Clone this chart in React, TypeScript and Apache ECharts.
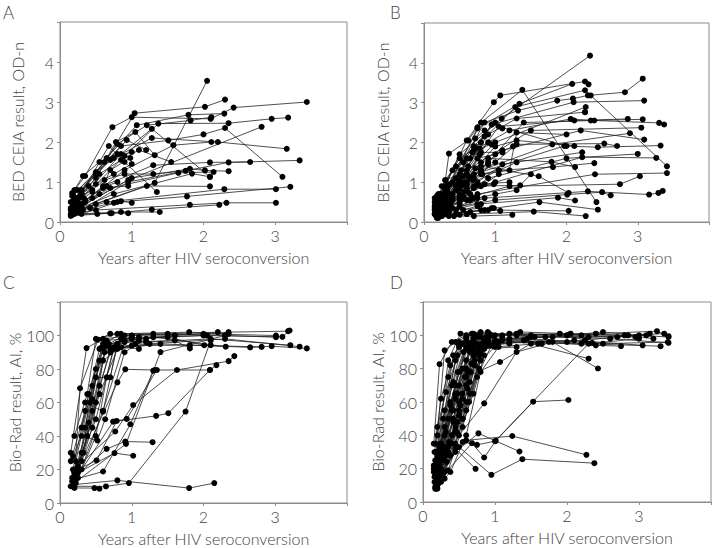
import React, { useEffect, useRef } from "react";
import * as echarts from "echarts";

type Pt = [number, number];

// Panel A: BED CEIA, subjects (years, OD-n)
const panelA: Pt[][] = [
  [[0.17, 0.72], [0.35, 1.15], [0.73, 2.37], [1.0, 2.62], [2.1, 2.58], [2.42, 2.86], [3.44, 3.0]],
  [[0.2, 0.45], [0.5, 1.1], [1.04, 2.72], [2.02, 2.88], [2.3, 3.06]],
  [[0.22, 0.6], [0.65, 1.6], [1.07, 2.42], [1.79, 2.68], [2.29, 2.71]],
  [[0.25, 0.3], [1.32, 0.98], [2.05, 3.53]],
  [[0.2, 0.5], [0.8, 1.95], [1.21, 2.42], [1.82, 2.54], [2.11, 2.62]],
  [[0.25, 0.5], [0.85, 1.7], [1.28, 2.33], [2.09, 1.13]],
  [[0.2, 0.4], [0.9, 1.65], [1.37, 2.46], [2.35, 2.47], [2.95, 2.58], [3.18, 2.61]],
  [[0.25, 0.35], [0.95, 1.05], [2.81, 2.38]],
  [[0.2, 0.6], [0.7, 1.55], [1.28, 2.1], [2.2, 2.0], [3.16, 1.83]],
  [[0.25, 0.8], [0.85, 1.9], [1.51, 2.04], [2.0, 2.19], [2.3, 2.35], [3.1, 1.13]],
  [[0.3, 0.45], [0.9, 1.3], [1.58, 1.92], [2.11, 2.0]],
  [[0.2, 0.3], [0.6, 0.9], [1.3, 1.42], [2.09, 1.49], [2.65, 1.5]],
  [[0.25, 0.25], [0.95, 1.0], [2.35, 1.49], [3.34, 1.54]],
  [[0.2, 0.35], [0.7, 0.85], [1.65, 1.23], [2.14, 1.25]],
  [[0.3, 0.4], [1.0, 1.1], [1.81, 1.33], [2.02, 1.29], [2.35, 1.27]],
  [[0.22, 0.3], [0.75, 0.7], [1.84, 1.21], [2.09, 1.13]],
  [[0.2, 0.25], [0.5, 0.45], [1.21, 0.9], [2.09, 0.89]],
  [[0.25, 0.3], [0.65, 0.5], [2.29, 0.82], [3.01, 0.82]],
  [[0.3, 0.2], [0.8, 0.5], [1.77, 0.64], [3.21, 0.88]],
  [[0.15, 0.2], [0.5, 0.3], [1.81, 0.43], [2.32, 0.48], [3.01, 0.48]],
  [[0.17, 0.18], [0.7, 0.22], [1.28, 0.31], [2.22, 0.43]],
  [[0.2, 0.2], [0.85, 0.25], [1.39, 0.25]],
  [[0.15, 0.15], [0.52, 0.2], [0.72, 0.22], [0.95, 0.22]],
  [[0.3, 0.3], [0.75, 0.48], [0.85, 0.52], [1.0, 0.48]],
  [[0.18, 0.7], [0.5, 1.2], [0.93, 2.05], [1.2, 1.8]],
  [[0.2, 0.6], [0.62, 1.5], [0.78, 2.0], [1.05, 2.25], [1.32, 1.67]],
  [[0.22, 0.55], [0.55, 1.2], [0.85, 1.55], [1.1, 1.8], [1.55, 1.5]],
  [[0.2, 0.4], [0.68, 1.9], [0.9, 1.5], [1.35, 0.75]],
  [[0.3, 0.8], [0.5, 1.25], [0.75, 1.6], [1.0, 1.75]],
  [[0.15, 0.5], [0.3, 0.7], [0.5, 0.95], [0.75, 1.2], [1.0, 1.45]],
  [[0.18, 0.4], [0.35, 0.55], [0.6, 0.85], [0.95, 0.9]],
  [[0.25, 0.6], [0.45, 0.8], [0.62, 1.05], [0.9, 1.2], [1.3, 1.2], [1.75, 1.28]],
  [[0.15, 0.3], [0.28, 0.4], [0.45, 0.6], [0.65, 0.9], [0.8, 1.0]],
  [[0.2, 0.8], [0.32, 1.15], [0.55, 1.5], [0.8, 1.7]],
  [[0.17, 0.25], [0.3, 0.35], [0.55, 0.7], [0.7, 1.3], [0.98, 1.6]],
  [[0.15, 0.35], [0.2, 0.55], [0.28, 0.62], [0.35, 0.5]],
  [[0.17, 0.65], [0.22, 0.8], [0.3, 0.72], [0.4, 0.9]],
  [[0.16, 0.2], [0.24, 0.25], [0.32, 0.3], [0.42, 0.35]],
  [[0.18, 0.5], [0.25, 0.4], [0.33, 0.6], [0.45, 0.75]],
];

// Panel B: BED CEIA, second cohort
const panelB: Pt[][] = [
  [[0.2, 0.6], [0.5, 1.7], [1.09, 2.6], [2.33, 4.18]],
  [[0.18, 0.5], [0.6, 2.05], [0.98, 3.01], [1.07, 3.18], [2.26, 3.53], [2.31, 3.46]],
  [[0.2, 0.4], [0.8, 2.5], [1.38, 3.32], [2.42, 0.5]],
  [[0.22, 0.5], [0.75, 2.35], [1.34, 2.97], [2.08, 3.47]],
  [[0.2, 0.3], [0.9, 2.2], [1.28, 2.89], [2.26, 3.31], [2.34, 3.18], [3.41, 1.4]],
  [[0.25, 0.6], [0.85, 2.5], [1.32, 2.8], [1.87, 3.05], [2.09, 3.1], [2.3, 3.18], [2.82, 3.26], [3.07, 3.6]],
  [[0.2, 0.5], [0.95, 2.45], [2.1, 3.01], [3.09, 3.05]],
  [[0.3, 0.7], [1.0, 2.0], [2.27, 2.89], [2.26, 2.76]],
  [[0.2, 0.4], [0.7, 1.8], [1.2, 2.3], [2.06, 2.59], [2.34, 2.55], [3.07, 2.58]],
  [[0.25, 0.45], [1.05, 2.4], [2.11, 2.55], [2.86, 2.59]],
  [[0.18, 0.3], [0.9, 1.5], [1.4, 2.5], [2.39, 2.55], [3.3, 2.49], [3.37, 2.45]],
  [[0.2, 0.5], [0.6, 1.3], [1.5, 2.3], [3.05, 2.37]],
  [[0.22, 0.4], [0.8, 1.3], [1.8, 1.95], [2.89, 2.23]],
  [[0.3, 0.6], [1.1, 1.8], [2.2, 2.3], [3.09, 2.07]],
  [[0.15, 0.35], [0.7, 1.2], [1.97, 1.91], [2.44, 1.88], [3.32, 1.92]],
  [[0.2, 0.25], [0.9, 1.1], [2.0, 1.6], [3.0, 1.71]],
  [[0.25, 0.5], [1.0, 1.0], [2.22, 1.63], [3.26, 1.61]],
  [[0.2, 0.3], [0.75, 0.7], [2.4, 1.2], [3.41, 1.23]],
  [[0.18, 0.4], [1.2, 0.9], [2.75, 0.95], [3.03, 1.15]],
  [[0.22, 0.2], [0.85, 0.6], [2.3, 0.77], [3.16, 0.69], [3.29, 0.73], [3.35, 0.78]],
  [[0.2, 0.3], [1.0, 0.55], [2.01, 0.69], [2.5, 0.75], [2.62, 0.67]],
  [[0.15, 0.2], [0.75, 0.45], [1.88, 0.61], [2.12, 0.54]],
  [[0.17, 0.15], [0.8, 0.3], [1.62, 0.5], [2.44, 0.31]],
  [[0.2, 0.2], [0.9, 0.3], [2.03, 0.28]],
  [[0.18, 0.1], [0.6, 0.2], [1.54, 0.26], [2.27, 0.15]],
  [[0.2, 0.15], [0.7, 0.15], [1.24, 0.18]],
  [[0.25, 0.3], [0.95, 0.35], [1.07, 0.28]],
  [[0.2, 0.5], [0.8, 1.4], [1.61, 1.15], [2.03, 0.73]],
  [[0.3, 0.8], [0.9, 1.6], [1.79, 1.51], [2.12, 1.38]],
  [[0.22, 0.6], [1.05, 1.3], [1.81, 1.38], [2.39, 1.48]],
  [[0.2, 0.4], [0.7, 0.9], [1.35, 0.92], [1.5, 1.2]],
  [[0.3, 1.05], [0.35, 1.72], [0.62, 2.05], [0.75, 2.38]],
  [[0.2, 0.7], [0.45, 1.4], [0.7, 1.9], [1.0, 2.5], [1.1, 2.35]],
  [[0.25, 0.9], [0.5, 1.6], [0.72, 1.85], [0.95, 2.45], [2.0, 1.91]],
  [[0.2, 0.5], [0.55, 1.0], [0.8, 1.5], [1.0, 1.9], [1.3, 2.05], [2.11, 1.91]],
  [[0.15, 0.3], [0.45, 0.8], [0.7, 1.1], [1.0, 1.5], [1.3, 1.95], [2.53, 1.97], [2.71, 1.91]],
  [[0.2, 0.2], [0.5, 0.7], [0.75, 1.0], [1.1, 1.45], [2.22, 1.75]],
  [[0.18, 0.6], [0.4, 1.0], [0.6, 1.2], [0.78, 1.7], [0.9, 2.0]],
  [[0.2, 0.4], [0.35, 0.7], [0.6, 0.95], [0.8, 1.2], [1.05, 1.3], [1.3, 1.5]],
  [[0.16, 0.3], [0.3, 0.5], [0.55, 0.6], [0.7, 0.85], [0.98, 0.95]],
  [[0.2, 0.5], [0.4, 0.6], [0.55, 0.95], [0.62, 1.4], [0.78, 1.85], [0.95, 1.95]],
  [[0.17, 0.4], [0.28, 0.55], [0.5, 0.85], [0.68, 1.05], [0.8, 0.9]],
  [[0.22, 0.7], [0.3, 1.05], [0.5, 1.2], [0.65, 1.6], [0.72, 2.1], [0.85, 2.3]],
  [[0.2, 0.2], [0.33, 0.35], [0.5, 0.5], [0.65, 0.55], [0.8, 0.45]],
  [[0.15, 0.5], [0.25, 0.6], [0.45, 1.1], [0.6, 1.0], [0.72, 1.35], [0.9, 1.45]],
  [[0.18, 0.25], [0.28, 0.25], [0.4, 0.35], [0.55, 0.3], [0.75, 0.4]],
  [[0.2, 0.6], [0.32, 0.8], [0.5, 1.05], [0.6, 1.6], [0.8, 1.75], [1.1, 1.75]],
  [[0.25, 0.15], [0.45, 0.2], [0.65, 0.25], [0.85, 0.3], [0.98, 0.35]],
  [[0.17, 0.35], [0.35, 0.45], [0.55, 0.75], [0.75, 0.95], [1.2, 1.0]],
  [[0.2, 0.45], [0.3, 0.55], [0.45, 0.9], [0.62, 1.15], [0.75, 1.6], [1.0, 1.7], [1.25, 1.9]],
  [[0.15, 0.2], [0.2, 0.4], [0.4, 0.55], [0.55, 0.65], [0.7, 0.6]],
  [[0.18, 0.6], [0.3, 0.65], [0.6, 0.85], [0.82, 1.2], [1.2, 1.3], [1.3, 2.25], [2.0, 2.2]],
  [[0.2, 0.3], [0.35, 0.3], [0.5, 0.4], [0.75, 0.6], [1.0, 0.7], [1.3, 0.8]],
  [[0.16, 0.5], [0.24, 0.45], [0.4, 0.7], [0.58, 0.9], [0.72, 0.9]],
  [[0.22, 0.25], [0.3, 0.2], [0.42, 0.15], [0.6, 0.2]],
  [[0.2, 0.55], [0.36, 0.95], [0.52, 1.3], [0.68, 1.75], [0.85, 2.15], [1.3, 2.6], [2.26, 2.76]],
  [[0.18, 0.4], [0.25, 0.5], [0.38, 0.6], [0.62, 0.75], [0.85, 0.95], [1.05, 1.2]],
  [[0.2, 0.15], [0.26, 0.3], [0.33, 0.45], [0.5, 0.6], [0.65, 0.7]],
  [[0.3, 0.9], [0.4, 1.3], [0.55, 1.5], [0.7, 1.9], [0.8, 2.0]],
  [[0.17, 0.3], [0.22, 0.6], [0.32, 0.75], [0.5, 0.95], [0.65, 1.1], [0.8, 1.3]],
  [[0.15, 0.6], [0.2, 0.45], [0.25, 0.7], [0.3, 0.55], [0.4, 0.65]],
  [[0.17, 0.2], [0.2, 0.35], [0.28, 0.4], [0.35, 0.25], [0.45, 0.3]],
  [[0.16, 0.45], [0.22, 0.3], [0.3, 0.35], [0.38, 0.5], [0.5, 0.45]],
  [[0.18, 0.65], [0.24, 0.55], [0.33, 0.9], [0.45, 0.95], [0.55, 1.15]],
  [[0.2, 0.1], [0.25, 0.2], [0.35, 0.15], [0.5, 0.18]],
  [[0.15, 0.4], [0.19, 0.25], [0.27, 0.5], [0.37, 0.4], [0.6, 0.55]],
];

// Panel C: Bio-Rad avidity index (%), first cohort
const panelC: Pt[][] = [
  [[0.15, 30], [0.37, 92.5], [0.6, 98], [1.0, 100], [2.0, 101], [3.01, 100]],
  [[0.2, 15], [0.28, 68.5], [0.53, 97.5], [0.7, 101], [1.3, 101], [2.3, 100], [3.01, 99]],
  [[0.18, 20], [0.4, 65], [0.6, 95], [0.85, 101], [1.6, 100], [2.35, 102], [3.18, 102.6]],
  [[0.22, 12], [0.45, 55], [0.65, 94], [1.0, 98], [2.0, 100], [3.1, 99.2], [3.2, 103]],
  [[0.2, 10], [0.5, 60], [0.7, 92], [1.2, 96], [2.1, 98], [3.21, 94.2]],
  [[0.17, 15], [0.5, 50], [0.75, 93], [1.25, 95], [2.3, 98], [3.34, 93.3]],
  [[0.25, 20], [0.55, 65], [0.8, 92], [1.4, 95], [2.65, 92.9], [2.95, 93.6], [3.44, 92.3]],
  [[0.2, 18], [0.4, 48], [0.62, 90], [1.0, 94], [1.81, 94.2], [2.81, 93.2]],
  [[0.22, 25], [0.45, 70], [0.68, 95], [1.3, 99], [2.31, 93.3]],
  [[0.3, 30], [0.55, 85], [0.85, 98], [1.5, 99], [2.01, 94.2], [2.1, 94.2]],
  [[0.25, 15], [0.6, 55], [0.9, 96], [1.6, 97], [1.81, 92.3]],
  [[0.2, 12], [0.92, 35.3], [1.4, 90.1], [2.3, 100]],
  [[0.18, 14], [0.8, 72], [0.91, 79.8], [1.32, 79.4], [2.09, 79.4], [2.18, 82.3]],
  [[0.2, 20], [0.77, 42.7], [1.02, 58.5], [1.63, 79.4], [2.35, 84.7], [2.43, 87.7]],
  [[0.15, 10], [0.74, 48.6], [1.34, 52], [1.51, 53.6], [2.09, 79.4]],
  [[0.18, 10], [0.64, 9.9], [0.96, 11.9], [1.75, 54.6], [2.1, 97]],
  [[0.2, 9], [0.48, 8.9], [0.55, 8.5]],
  [[0.2, 11], [0.8, 13.5], [1.8, 8.9], [2.15, 11.9]],
  [[0.22, 16], [0.65, 32.3], [0.91, 36.7], [1.29, 36.3]],
  [[0.25, 18], [0.76, 29.8], [1.02, 28.2]],
  [[0.2, 14], [0.6, 18.8], [0.98, 47], [1.3, 79]],
  [[0.25, 20], [0.51, 25.4], [0.79, 49], [0.93, 50.2], [1.35, 79.4]],
  [[0.3, 40], [0.52, 37.3], [0.63, 50], [0.9, 90], [1.2, 98]],
  [[0.35, 60], [0.6, 54.6], [0.8, 95], [1.0, 100]],
  [[0.3, 45], [0.5, 75], [0.7, 75], [0.8, 95], [1.1, 97]],
  [[0.15, 25], [0.35, 55], [0.55, 92], [0.9, 100], [1.5, 101], [2.2, 102]],
  [[0.2, 40], [0.38, 65], [0.5, 98], [0.8, 101], [1.8, 102], [2.35, 101]],
  [[0.18, 28], [0.35, 45], [0.5, 80], [0.65, 97], [1.1, 99], [2.05, 100]],
  [[0.25, 22], [0.42, 60], [0.6, 92], [0.9, 97], [1.6, 100]],
  [[0.2, 16], [0.38, 40], [0.55, 70], [0.7, 90], [1.05, 95]],
  [[0.3, 25], [0.45, 45], [0.6, 85], [0.85, 93], [1.1, 92]],
  [[0.17, 13], [0.3, 20], [0.5, 40], [0.65, 75], [0.75, 92]],
  [[0.2, 18], [0.33, 30], [0.45, 62], [0.58, 93], [1.0, 99]],
];

// Panel D: Bio-Rad avidity index (%), second cohort
const panelD: Pt[][] = [
  [[0.18, 10], [0.45, 32], [0.73, 19.9]],
  [[0.2, 14], [0.5, 33], [0.95, 16.3], [1.38, 25.7], [2.38, 23.3]],
  [[0.2, 12], [0.45, 30], [0.77, 41.2], [1.34, 30.3]],
  [[0.25, 20], [0.6, 37], [1.24, 39.6], [2.27, 28.3]],
  [[0.2, 12], [0.68, 35.3], [0.85, 26.7], [1.01, 36.7], [1.53, 60.2], [2.02, 61.2]],
  [[0.2, 15], [0.55, 36], [0.75, 34.3], [1.0, 36.5], [2.3, 95], [3.0, 98]],
  [[0.22, 18], [0.5, 40], [0.85, 59.2], [1.3, 90], [1.8, 96], [2.43, 80.1]],
  [[0.2, 20], [0.6, 75], [1.07, 84], [1.5, 95], [2.3, 86]],
  [[0.15, 35], [0.23, 82.7], [0.4, 96], [0.6, 100], [1.2, 101], [2.0, 100], [2.5, 102], [3.0, 100], [3.41, 99]],
  [[0.17, 25], [0.3, 91], [0.45, 96], [0.7, 101], [1.5, 100], [2.4, 101], [3.25, 102.5], [3.41, 99.5]],
  [[0.16, 15], [0.35, 85], [0.52, 101], [0.8, 102], [1.3, 100], [2.3, 99], [3.35, 101]],
  [[0.2, 20], [0.4, 70], [0.55, 95], [0.9, 98], [1.8, 99], [2.6, 98], [3.41, 95.5]],
  [[0.18, 12], [0.38, 60], [0.6, 92], [1.0, 96], [2.2, 95], [3.3, 93.5]],
  [[0.2, 10], [0.42, 50], [0.65, 90], [1.0, 95], [2.1, 97], [3.05, 94]],
  [[0.17, 8], [0.45, 45], [0.7, 92], [1.1, 97], [2.4, 94], [2.75, 93.5]],
  [[0.2, 14], [0.5, 55], [0.75, 95], [1.2, 98], [2.0, 96], [3.15, 101]],
  [[0.22, 22], [0.48, 65], [0.7, 97], [1.0, 100], [1.9, 101], [2.8, 100]],
  [[0.18, 16], [0.5, 70], [0.8, 99], [1.3, 101], [2.0, 100], [2.25, 97]],
  [[0.25, 30], [0.55, 80], [0.85, 97], [1.45, 98], [2.35, 95.5]],
  [[0.2, 18], [0.6, 60], [0.85, 92], [1.2, 96], [1.65, 95]],
  [[0.2, 25], [0.55, 50], [0.8, 85], [1.0, 93], [1.6, 95]],
  [[0.3, 30], [0.65, 65], [0.85, 96], [1.5, 99], [2.7, 99], [3.1, 100]],
  [[0.15, 20], [0.4, 40], [0.7, 88], [0.9, 95], [1.4, 97]],
  [[0.18, 30], [0.3, 55], [0.5, 93], [0.9, 97], [1.7, 99]],
  [[0.2, 40], [0.35, 75], [0.5, 96], [0.75, 100], [1.1, 99]],
  [[0.17, 12], [0.4, 35], [0.6, 80], [0.75, 94], [1.2, 95]],
  [[0.22, 15], [0.45, 42], [0.65, 72], [0.85, 92], [1.3, 93]],
  [[0.2, 18], [0.35, 30], [0.55, 62], [0.78, 90], [1.0, 94]],
  [[0.18, 10], [0.3, 25], [0.55, 50], [0.72, 82], [0.9, 96]],
  [[0.25, 25], [0.4, 55], [0.6, 85], [0.7, 97], [0.95, 100]],
  [[0.2, 30], [0.3, 40], [0.45, 65], [0.65, 92], [0.88, 99]],
  [[0.15, 22], [0.25, 35], [0.42, 55], [0.62, 78], [0.8, 90], [1.05, 96]],
  [[0.17, 9], [0.22, 15], [0.38, 28], [0.6, 55], [0.8, 85]],
  [[0.2, 12], [0.3, 18], [0.45, 35], [0.7, 65], [0.85, 88]],
  [[0.18, 8], [0.25, 12], [0.35, 19], [0.55, 45], [0.75, 75], [0.95, 94]],
  [[0.2, 14], [0.28, 28], [0.42, 48], [0.6, 70], [0.78, 88]],
  [[0.22, 25], [0.3, 14], [0.38, 18], [0.6, 40], [0.8, 78], [1.05, 93]],
  [[0.16, 30], [0.2, 45], [0.32, 66], [0.48, 88], [0.6, 98]],
  [[0.18, 20], [0.24, 35], [0.38, 58], [0.55, 80], [0.7, 95]],
  [[0.2, 28], [0.28, 50], [0.42, 72], [0.56, 90], [0.75, 99]],
  [[0.17, 35], [0.25, 62], [0.38, 82], [0.5, 94], [0.68, 101]],
  [[0.19, 13], [0.3, 33], [0.5, 60], [0.68, 83], [0.82, 95]],
  [[0.21, 11], [0.33, 24], [0.47, 42], [0.62, 68], [0.78, 92], [0.92, 101]],
  [[0.15, 18], [0.2, 27], [0.3, 45], [0.45, 70], [0.6, 93]],
  [[0.18, 22], [0.26, 30], [0.4, 40], [0.55, 65], [0.72, 85], [0.85, 97]],
  [[0.2, 8], [0.27, 16], [0.36, 36], [0.52, 58], [0.66, 78], [0.8, 93]],
  [[0.23, 33], [0.35, 50], [0.48, 78], [0.62, 96], [0.9, 102]],
  [[0.17, 16], [0.22, 23], [0.33, 28], [0.5, 52], [0.7, 88], [0.88, 98]],
  [[0.2, 19], [0.32, 42], [0.45, 62], [0.58, 75], [0.72, 90], [0.9, 94]],
  [[0.16, 12], [0.24, 20], [0.35, 33], [0.48, 48], [0.64, 60], [0.78, 80]],
  [[0.2, 25], [0.45, 85], [0.7, 98], [1.35, 102], [2.05, 101], [2.85, 100], [3.2, 98]],
  [[0.18, 18], [0.5, 78], [0.65, 95], [1.0, 97], [1.75, 96], [2.5, 95], [3.4, 96]],
  [[0.22, 30], [0.42, 88], [0.6, 99], [1.1, 100], [1.55, 99], [2.2, 100], [2.95, 99]],
];

const xTickLabels = [0, 1, 2, 3];
const odTickLabels = [0, 1, 2, 3, 4];
const aiTickLabels = [0, 20, 40, 60, 80, 100];

const xAxisName = "Years after HIV seroconversion";
const odAxisName = "BED CEIA result, OD-n";
const aiAxisName = "Bio-Rad result, AI, %";

const FONT = "Lato, 'Open Sans', sans-serif";
const TEXT = "#444444";
const AXIS = "#8c8c8c";

const panels = [
  { letter: "A", data: panelA, yName: odAxisName, yMax: 5, yInt: 1, yLabels: odTickLabels, grid: { left: 60, top: 22, width: 287, height: 200 }, yGap: 35, letterPos: [3, 4] },
  { letter: "B", data: panelB, yName: odAxisName, yMax: 5, yInt: 1, yLabels: odTickLabels, grid: { left: 424, top: 23, width: 285, height: 199 }, yGap: 34, letterPos: [390, 4] },
  { letter: "C", data: panelC, yName: aiAxisName, yMax: 120, yInt: 20, yLabels: aiTickLabels, grid: { left: 60, top: 302, width: 287, height: 201 }, yGap: 38, letterPos: [3, 274] },
  { letter: "D", data: panelD, yName: aiAxisName, yMax: 120, yInt: 20, yLabels: aiTickLabels, grid: { left: 423, top: 302, width: 288, height: 200 }, yGap: 34, letterPos: [390, 274] },
];

export default function App() {
  const ref = useRef<HTMLDivElement>(null);
  useEffect(() => {
    if (!ref.current) return;
    const chart = echarts.init(ref.current, undefined, { renderer: "svg" });
    const grid: any[] = [];
    const xAxis: any[] = [];
    const yAxis: any[] = [];
    const series: any[] = [];
    const graphic: any[] = [];
    panels.forEach((p, i) => {
      grid.push({ ...p.grid, show: true, borderColor: AXIS, borderWidth: 1, backgroundColor: "transparent" });
      xAxis.push({
        type: "value",
        gridIndex: i,
        min: 0,
        max: 4,
        interval: 1,
        name: xAxisName,
        nameLocation: "middle",
        nameGap: 27,
        nameTextStyle: { color: TEXT, fontSize: 16, fontFamily: FONT, fontWeight: 300 },
        axisLine: { show: true, lineStyle: { color: AXIS, width: 1 } },
        axisTick: { show: true, length: 3, lineStyle: { color: AXIS } },
        splitLine: { show: false },
        axisLabel: {
          color: TEXT,
          fontSize: 16,
          fontFamily: FONT,
          fontWeight: 300,
          margin: 5,
          formatter: (v: number) => (xTickLabels.includes(v) ? String(v) : ""),
        },
      });
      yAxis.push({
        type: "value",
        gridIndex: i,
        min: 0,
        max: p.yMax,
        interval: p.yInt,
        name: p.yName,
        nameLocation: "middle",
        nameGap: p.yGap,
        nameTextStyle: { color: TEXT, fontSize: 16, fontFamily: FONT, fontWeight: 300 },
        axisLine: { show: true, lineStyle: { color: AXIS, width: 1 } },
        axisTick: { show: true, length: 3, lineStyle: { color: AXIS } },
        splitLine: { show: false },
        axisLabel: {
          color: TEXT,
          fontSize: 16,
          fontFamily: FONT,
          fontWeight: 300,
          margin: 6,
          formatter: (v: number) => (p.yLabels.includes(v) ? String(v) : ""),
        },
      });
      p.data.forEach((subj) => {
        series.push({
          type: "line",
          xAxisIndex: i,
          yAxisIndex: i,
          data: subj,
          symbol: "circle",
          symbolSize: 6,
          showSymbol: true,
          silent: true,
          lineStyle: { color: "#222", width: 0.8 },
          itemStyle: { color: "#000" },
          emphasis: { disabled: true },
        });
      });
      graphic.push({
        type: "text",
        left: p.letterPos[0],
        top: p.letterPos[1],
        style: { text: p.letter, fill: TEXT, fontSize: 17, fontFamily: FONT, fontWeight: 300 },
      });
    });
    chart.setOption({
      animation: false,
      backgroundColor: "#fff",
      grid,
      xAxis,
      yAxis,
      series,
      graphic,
    });
    return () => chart.dispose();
  }, []);
  return <div ref={ref} style={{ position: "absolute", left: 0, top: 0, width: 720, height: 548 }} />;
}
